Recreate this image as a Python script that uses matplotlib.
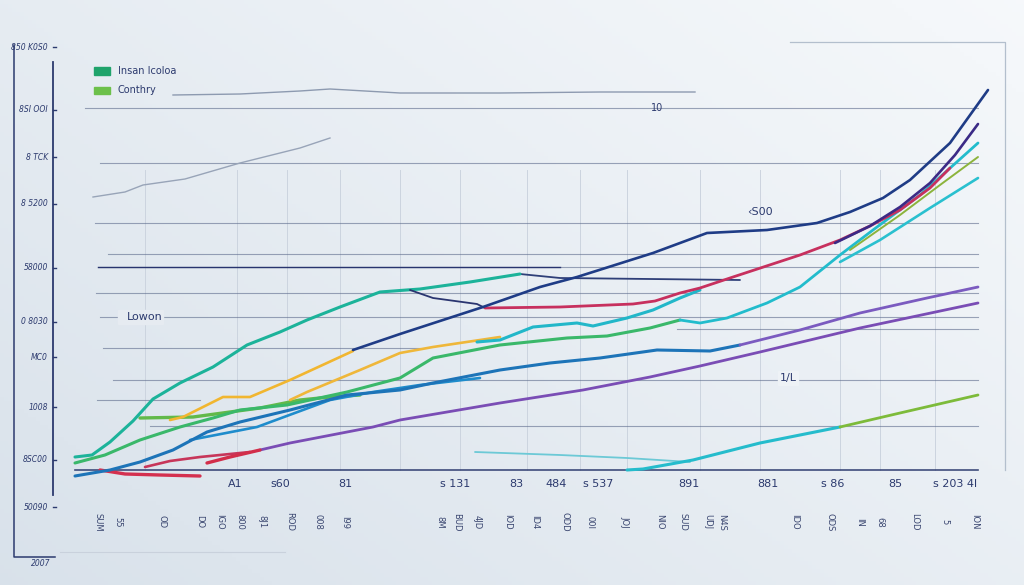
import numpy as np
import matplotlib
matplotlib.use("Agg")
import matplotlib.pyplot as plt

# ---- data (x = period, y = level, axis runs top-down) ----
teal_x = [75, 92, 110, 133, 153, 180, 213, 247, 280, 307, 340, 380, 420, 470, 520]
teal_y = [457, 455, 442, 421, 399, 383, 367, 345, 332, 320, 307, 292, 289, 282, 274]

navy_thin_x = [520, 560, 650, 740]
navy_thin_y = [274, 278, 279, 280]

navy_drop_x = [410, 433, 477, 485]
navy_drop_y = [290, 298, 304, 308]

red_x = [485, 560, 633, 655, 680, 700, 733, 800, 840, 870, 900, 930, 950]
red_y = [308, 307, 304, 301, 293, 288, 277, 255, 240, 226, 210, 188, 168]

indigo_x = [835, 870, 900, 930, 955, 978]
indigo_y = [243, 226, 207, 183, 155, 124]

navy_x = [353, 400, 443, 483, 540, 577, 653, 707, 767, 817, 850, 883, 910, 950, 988]
navy_y = [350, 334, 320, 307, 287, 277, 253, 233, 230, 223, 212, 198, 180, 143, 90]

yellow1_x = [170, 183, 223, 250, 290, 353]
yellow1_y = [420, 417, 397, 397, 380, 351]

yellow2_x = [290, 307, 360, 400, 433, 480, 500]
yellow2_y = [400, 392, 370, 353, 347, 340, 337]

greenA_x = [75, 105, 140, 180, 213, 240, 287, 347, 400, 433, 500, 567, 607, 650, 680]
greenA_y = [463, 455, 440, 427, 418, 410, 405, 392, 378, 358, 345, 338, 336, 328, 320]

greenB_x = [140, 193, 230, 260, 300, 330, 360]
greenB_y = [418, 417, 412, 408, 400, 397, 395]

blue_x = [75, 110, 140, 173, 207, 240, 290, 347, 400, 433, 500, 550, 600, 657, 710, 740]
blue_y = [476, 470, 462, 450, 432, 422, 410, 395, 390, 383, 370, 363, 358, 350, 351, 345]

blue2_x = [190, 257, 330, 373, 420, 480]
blue2_y = [440, 427, 400, 392, 385, 378]

purple1_x = [740, 800, 860, 927, 978]
purple1_y = [345, 330, 313, 298, 287]

purple_x = [260, 290, 373, 400, 500, 583, 650, 700, 760, 860, 978]
purple_y = [450, 443, 427, 420, 403, 390, 377, 366, 352, 328, 303]

red_wedge_x = [207, 230, 260]
red_wedge_y = [463, 457, 450]

red_low_x = [100, 125, 160, 200]
red_low_y = [470, 474, 475, 476]

red2_x = [145, 170, 200, 250]
red2_y = [467, 461, 457, 452]

cyan_up_x = [477, 500, 533, 577, 593, 627, 653, 680, 700]
cyan_up_y = [342, 340, 327, 323, 326, 318, 310, 298, 290]

cyan2_x = [680, 700, 727, 767, 800, 840, 873, 920, 978]
cyan2_y = [320, 323, 318, 303, 287, 255, 230, 195, 143]

cyan3_x = [840, 880, 930, 978]
cyan3_y = [262, 240, 208, 178]

olive_x = [850, 900, 940, 978]
olive_y = [250, 215, 185, 157]

cyan_low_x = [627, 643, 693, 760, 840]
cyan_low_y = [470, 469, 460, 443, 427]

green_low_x = [840, 900, 978]
green_low_y = [427, 413, 395]

cyan_thin_x = [475, 560, 627, 690]
cyan_thin_y = [452, 455, 458, 462]

gray_top_x = [173, 240, 300, 330, 400, 500, 600, 695]
gray_top_y = [95, 94, 91, 89, 93, 93, 92, 92]

gray_diag_x = [93, 125, 143, 185, 240, 300, 330]
gray_diag_y = [197, 192, 185, 179, 163, 148, 138]

# horizontal reference levels: (level, start, end)
h_levels = [108, 163, 223, 254, 267, 293, 317, 329, 348, 380, 400, 426, 470]
h_start = [85, 100, 95, 108, 98, 96, 100, 677, 103, 113, 97, 150, 75]
h_end = [978, 978, 978, 978, 978, 978, 978, 978, 420, 978, 200, 978, 978]

v_grid = [145, 237, 287, 340, 400, 460, 527, 580, 627, 700, 760, 840, 880, 935]

ytick_pos = [47, 110, 157, 204, 268, 322, 357, 407, 460, 507]
ytick_lab = ["850 K0S0", "8SI OOI", "8 TCK", "8 5200", "58000", "0 8030",
             "MC0", "1008", "8SC00", "50090"]

xlab1_pos = [235, 280, 345, 455, 516, 556, 598, 689, 768, 833, 895, 955]
xlab1_txt = ["A1", "s60", "81", "s 131", "83", "484", "s 537", "891", "881",
             "s 86", "85", "s 203 4l"]

xlab2_pos = [98, 118, 162, 200, 220, 240, 262, 290, 318, 345, 440, 457, 477,
             508, 535, 565, 590, 625, 660, 683, 708, 722, 795, 830, 860, 880,
             915, 945, 975]
xlab2_txt = ["SUM", "55", "OD", "DO", "IGO", "800", "8J1", "ROD", "008", "I99",
             "8M", "BUD", "4JD", "IOD", "ID4", "ODD", "00I", "JOJ", "NIO",
             "SUD", "UDJ", "N4S", "IDO", "ODS", "IN", "68", "LOD", "5", "ION"]

fig = plt.figure(figsize=(10.24, 5.85), dpi=100)
ax = fig.add_axes([0, 0, 1, 1])
ax.set_xlim(0, 1024)
ax.set_ylim(585, 0)
ax.axis("off")

# soft background
gx = np.linspace(0, 1, 256)
gy = np.linspace(0, 1, 146)
GX, GY = np.meshgrid(gx, gy)
t = np.clip(0.55 * GX + 0.45 * (1 - GY), 0, 1)
c0 = np.array([0.85, 0.885, 0.92])
c1 = np.array([0.965, 0.975, 0.985])
bg = c0 + (c1 - c0) * t[..., None]
ax.imshow(bg, extent=[0, 1024, 585, 0], aspect="auto", zorder=0)

grid_c = "#ccd4df"
for x in v_grid:
    ax.plot([x, x], [170, 470], color=grid_c, lw=0.7, zorder=1)

for lv, s, e in zip(h_levels, h_start, h_end):
    c = "#2c3a6e" if lv == 470 else "#5d6b8c"
    ax.plot([s, e], [lv, lv], color=c, lw=1.2 if lv == 470 else 0.8,
            alpha=0.9 if lv == 470 else 0.6, zorder=2)
ax.plot([98, 560], [267, 267], color="#28346e", lw=1.0, zorder=2)

# top bracket and axis lines
ax.plot([790, 1005, 1005], [42, 42, 470], color="#b3bfcd", lw=0.9, zorder=2)
ax.plot([53, 53], [62, 495], color="#2c3a6e", lw=1.3, zorder=3)
ax.plot([14, 14, 55], [45, 557, 557], color="#2c3a6e", lw=1.1, zorder=3)
ax.plot([60, 285], [552, 552], color="#c9d1dc", lw=0.8, zorder=2)

ax.plot(gray_top_x, gray_top_y, color="#8d9ab0", lw=1.0, zorder=3)
ax.plot(gray_diag_x, gray_diag_y, color="#98a4b8", lw=1.0, zorder=3)

series = [
    (cyan_thin_x, cyan_thin_y, "#6cc9d6", 1.3),
    (navy_thin_x, navy_thin_y, "#2f3f78", 1.3),
    (red_low_x, red_low_y, "#d4304f", 2.4),
    (red2_x, red2_y, "#c7365a", 1.9),
    (greenB_x, greenB_y, "#62b94a", 2.4),
    (greenA_x, greenA_y, "#3ab86a", 2.2),
    (yellow1_x, yellow1_y, "#f1b630", 1.9),
    (yellow2_x, yellow2_y, "#efb73a", 1.9),
    (blue2_x, blue2_y, "#1e8ccc", 1.9),
    (blue_x, blue_y, "#1d74b8", 2.2),
    (purple_x, purple_y, "#7a4db5", 2.0),
    (red_wedge_x, red_wedge_y, "#d22e4a", 2.4),
    (purple1_x, purple1_y, "#7b5bc0", 2.0),
    (teal_x, teal_y, "#1cb39a", 2.2),
    (navy_drop_x, navy_drop_y, "#2a3570", 1.3),
    (cyan_up_x, cyan_up_y, "#22b7c9", 2.2),
    (cyan2_x, cyan2_y, "#22bccc", 2.0),
    (cyan3_x, cyan3_y, "#2ac0cf", 1.9),
    (olive_x, olive_y, "#8cb43c", 1.4),
    (red_x, red_y, "#c7305e", 2.0),
    (indigo_x, indigo_y, "#3b2a86", 1.9),
    (navy_x, navy_y, "#1f3c86", 1.9),
    (cyan_low_x, cyan_low_y, "#25bccc", 2.2),
    (green_low_x, green_low_y, "#7dbb3a", 2.0),
]
for xs, ys, c, lw in series:
    ax.plot(xs, ys, color=c, lw=lw, solid_capstyle="round", zorder=4)

tc = "#2c3a6e"
for p, s in zip(ytick_pos, ytick_lab):
    ax.text(48, p, s, ha="right", va="center", fontsize=5.5, color=tc,
            style="italic", zorder=5)
    ax.plot([53, 56], [p, p], color=tc, lw=1, zorder=5)
ax.text(50, 563, "2007", ha="right", va="center", fontsize=5.5, color=tc,
        style="italic", zorder=5)

for p, s in zip(xlab1_pos, xlab1_txt):
    ax.text(p, 484, s, ha="center", va="center", fontsize=8, color=tc, zorder=5)
for p, s in zip(xlab2_pos, xlab2_txt):
    ax.text(p, 522, s, ha="center", va="center", fontsize=6, color="#3a4670",
            rotation=270, zorder=5)

# legend
ax.add_patch(plt.Rectangle((94, 67), 16, 8, color="#1fa36b", zorder=5))
ax.add_patch(plt.Rectangle((94, 87), 16, 7, color="#6cc04a", zorder=5))
ax.text(118, 71, "Insan Icoloa", va="center", fontsize=7, color=tc, zorder=5)
ax.text(118, 90, "Conthry", va="center", fontsize=7, color=tc, zorder=5)

# annotations
ax.add_patch(plt.Rectangle((118, 310), 45, 14, color="#e6ebf1", zorder=4))
ax.text(145, 317, "Lowon", ha="center", va="center", fontsize=8, color=tc, zorder=5)
ax.text(657, 108, "10", ha="center", va="center", fontsize=7, color=tc, zorder=5)
ax.text(760, 212, "\u2039S00", ha="center", va="center", fontsize=8, color=tc, zorder=5)
ax.add_patch(plt.Rectangle((778, 371), 20, 14, color="#eef2f6", zorder=4))
ax.text(788, 378, "1/L", ha="center", va="center", fontsize=8, color=tc, zorder=5)

fig.savefig("out.png", dpi=100)
